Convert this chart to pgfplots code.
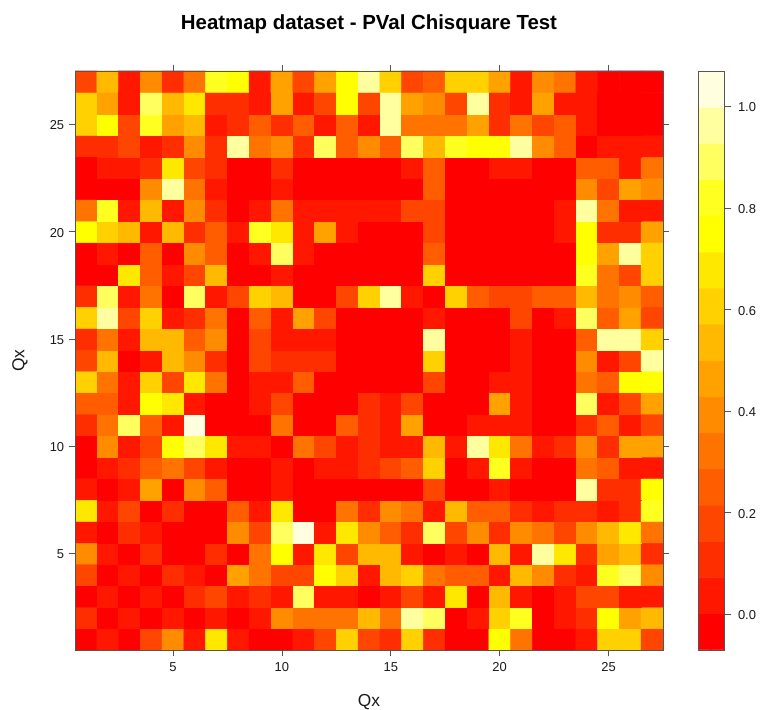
\documentclass[border=0pt]{standalone}
\usepackage{fontspec}
\setmainfont{Liberation Sans}
\usepackage{pgfplots}
\pgfplotsset{compat=1.18}
\definecolor{framegray}{RGB}{85,85,85}
\definecolor{txt}{RGB}{25,25,25}
\pgfplotsset{
  colormap={heatr}{
    rgb255(0)=(255,0,0) rgb255(1)=(255,23,0) rgb255(2)=(255,46,0) rgb255(3)=(255,70,0)
    rgb255(4)=(255,93,0) rgb255(5)=(255,116,0) rgb255(6)=(255,139,0) rgb255(7)=(255,162,0)
    rgb255(8)=(255,185,0) rgb255(9)=(255,209,0) rgb255(10)=(255,232,0) rgb255(11)=(255,255,0)
    rgb255(12)=(255,255,32) rgb255(13)=(255,255,96) rgb255(14)=(255,255,159) rgb255(15)=(255,255,223)
    rgb255(16)=(255,255,223)},
  commonstyle/.style={
    scale only axis,
    colormap name=heatr,
    colormap access=piecewise constant,
    point meta min=-0.07, point meta max=1.07,
    axis line style={framegray, line width=0.55pt},
    tick style={framegray, line width=0.55pt},
    tick align=outside,
    major tick length=4.6pt,
    /pgf/number format/assume math mode=true,
    tick label style={font=\fontsize{9.7}{11}\selectfont, text=txt},
    axis on top,
  }
}
\begin{document}
\begin{tikzpicture}[x=1pt,y=1pt]
\path[use as bounding box] (0,0) rectangle (570,532.5);
\begin{axis}[
  commonstyle,
  at={(56.25pt,45pt)}, anchor=south west,
  width=441pt, height=434.25pt,
  xmin=0.5, xmax=27.5, ymin=0.5, ymax=27.5,
  xtick={5,10,15,20,25}, ytick={5,10,15,20,25},
  xticklabel pos=bottom, yticklabel pos=left,
  xticklabel style={yshift=-1.5pt},
  yticklabel style={yshift=-0.7pt},
  title={\fontsize{15.3}{17}\selectfont\bfseries Heatmap dataset - PVal Chisquare Test},
  title style={at={(0.5,1)}, anchor=south, yshift=18.5pt, text=black},
  xlabel={\fontsize{13}{15}\selectfont Qx},
  ylabel={\fontsize{13}{15}\selectfont Qx},
  xlabel style={at={(0.5,0)}, anchor=north, yshift=-29.5pt, text=txt},
  ylabel style={at={(0,0.5)}, anchor=south, yshift=32pt, text=txt},
]
\addplot[matrix plot*, mesh/cols=27, point meta=explicit]
 table[row sep=\\, header=false, meta index=0,
       x expr={mod(\coordindex,27)+1},
       y expr={(\coordindex-mod(\coordindex,27))/27+1}] {
0.00\\0.04\\0.00\\0.18\\0.39\\0.04\\0.68\\0.04\\0.00\\0.00\\0.04\\0.18\\0.61\\0.18\\0.11\\0.61\\0.11\\0.00\\0.00\\0.75\\0.32\\0.00\\0.00\\0.04\\0.61\\0.61\\0.18\\
0.11\\0.00\\0.04\\0.00\\0.04\\0.00\\0.04\\0.00\\0.04\\0.39\\0.32\\0.32\\0.32\\0.54\\0.32\\0.96\\0.89\\0.00\\0.04\\0.61\\0.82\\0.00\\0.04\\0.11\\0.75\\0.46\\0.54\\
0.00\\0.04\\0.00\\0.04\\0.00\\0.11\\0.18\\0.04\\0.11\\0.04\\0.89\\0.04\\0.04\\0.00\\0.04\\0.18\\0.04\\0.68\\0.00\\0.54\\0.04\\0.00\\0.04\\0.18\\0.18\\0.04\\0.04\\
0.18\\0.00\\0.04\\0.00\\0.11\\0.04\\0.00\\0.46\\0.32\\0.18\\0.18\\0.75\\0.61\\0.04\\0.54\\0.61\\0.32\\0.25\\0.25\\0.04\\0.54\\0.39\\0.11\\0.04\\0.82\\0.89\\0.39\\
0.39\\0.04\\0.00\\0.11\\0.00\\0.00\\0.11\\0.00\\0.32\\0.75\\0.04\\0.68\\0.18\\0.54\\0.54\\0.04\\0.00\\0.04\\0.00\\0.54\\0.04\\0.96\\0.68\\0.11\\0.46\\0.54\\0.11\\
0.04\\0.00\\0.11\\0.04\\0.00\\0.00\\0.00\\0.39\\0.18\\0.89\\1.00\\0.04\\0.68\\0.39\\0.25\\0.11\\0.89\\0.18\\0.39\\0.11\\0.39\\0.32\\0.18\\0.39\\0.54\\0.68\\0.32\\
0.68\\0.04\\0.18\\0.00\\0.11\\0.00\\0.00\\0.25\\0.04\\0.68\\0.00\\0.00\\0.32\\0.11\\0.39\\0.32\\0.04\\0.54\\0.25\\0.25\\0.11\\0.04\\0.11\\0.11\\0.04\\0.11\\0.82\\
0.04\\0.00\\0.04\\0.46\\0.00\\0.39\\0.25\\0.00\\0.00\\0.04\\0.00\\0.00\\0.00\\0.00\\0.00\\0.00\\0.18\\0.00\\0.00\\0.04\\0.00\\0.00\\0.00\\0.96\\0.11\\0.11\\0.75\\
0.00\\0.04\\0.11\\0.25\\0.32\\0.18\\0.04\\0.00\\0.00\\0.04\\0.00\\0.04\\0.04\\0.11\\0.18\\0.25\\0.61\\0.00\\0.04\\0.82\\0.04\\0.00\\0.00\\0.32\\0.25\\0.04\\0.04\\
0.00\\0.39\\0.04\\0.18\\0.75\\0.89\\0.68\\0.04\\0.04\\0.00\\0.32\\0.18\\0.04\\0.11\\0.04\\0.04\\0.54\\0.04\\0.96\\0.68\\0.32\\0.04\\0.11\\0.39\\0.11\\0.46\\0.46\\
0.11\\0.32\\0.89\\0.25\\0.04\\1.00\\0.00\\0.00\\0.00\\0.32\\0.00\\0.00\\0.25\\0.11\\0.04\\0.46\\0.00\\0.00\\0.04\\0.04\\0.04\\0.00\\0.00\\0.11\\0.25\\0.04\\0.18\\
0.25\\0.25\\0.04\\0.75\\0.68\\0.04\\0.00\\0.00\\0.04\\0.18\\0.00\\0.00\\0.00\\0.11\\0.04\\0.18\\0.00\\0.00\\0.00\\0.46\\0.04\\0.00\\0.00\\0.89\\0.04\\0.18\\0.46\\
0.61\\0.32\\0.04\\0.61\\0.18\\0.68\\0.32\\0.00\\0.04\\0.04\\0.25\\0.00\\0.00\\0.00\\0.00\\0.00\\0.18\\0.00\\0.00\\0.04\\0.04\\0.00\\0.00\\0.32\\0.25\\0.75\\0.75\\
0.18\\0.54\\0.00\\0.04\\0.54\\0.39\\0.11\\0.00\\0.18\\0.11\\0.11\\0.11\\0.00\\0.00\\0.00\\0.00\\0.61\\0.00\\0.00\\0.00\\0.04\\0.00\\0.00\\0.39\\0.04\\0.18\\0.96\\
0.11\\0.32\\0.04\\0.54\\0.54\\0.25\\0.39\\0.00\\0.18\\0.04\\0.04\\0.04\\0.00\\0.00\\0.00\\0.00\\0.96\\0.00\\0.00\\0.00\\0.04\\0.00\\0.00\\0.25\\0.96\\0.96\\0.61\\
0.61\\0.96\\0.18\\0.61\\0.04\\0.11\\0.32\\0.00\\0.25\\0.04\\0.46\\0.18\\0.00\\0.00\\0.00\\0.00\\0.04\\0.00\\0.00\\0.00\\0.18\\0.00\\0.04\\0.89\\0.25\\0.46\\0.18\\
0.11\\0.89\\0.04\\0.32\\0.00\\0.89\\0.04\\0.18\\0.61\\0.54\\0.00\\0.00\\0.18\\0.61\\0.96\\0.04\\0.00\\0.61\\0.25\\0.18\\0.18\\0.25\\0.25\\0.54\\0.32\\0.39\\0.25\\
0.00\\0.00\\0.68\\0.25\\0.04\\0.18\\0.54\\0.00\\0.00\\0.04\\0.00\\0.00\\0.00\\0.00\\0.00\\0.00\\0.61\\0.00\\0.00\\0.00\\0.00\\0.00\\0.00\\0.82\\0.32\\0.18\\0.61\\
0.00\\0.04\\0.00\\0.25\\0.00\\0.39\\0.25\\0.00\\0.04\\0.89\\0.04\\0.00\\0.00\\0.00\\0.00\\0.00\\0.25\\0.00\\0.00\\0.00\\0.00\\0.00\\0.00\\0.75\\0.46\\0.96\\0.61\\
0.75\\0.61\\0.54\\0.04\\0.54\\0.11\\0.25\\0.04\\0.82\\0.68\\0.04\\0.46\\0.04\\0.00\\0.00\\0.00\\0.18\\0.00\\0.00\\0.00\\0.00\\0.00\\0.04\\0.75\\0.11\\0.11\\0.46\\
0.32\\0.82\\0.04\\0.54\\0.04\\0.39\\0.11\\0.00\\0.04\\0.32\\0.04\\0.04\\0.04\\0.04\\0.04\\0.18\\0.18\\0.00\\0.00\\0.00\\0.00\\0.00\\0.04\\0.96\\0.32\\0.04\\0.04\\
0.00\\0.00\\0.00\\0.39\\0.96\\0.32\\0.04\\0.00\\0.00\\0.04\\0.00\\0.00\\0.00\\0.00\\0.00\\0.00\\0.25\\0.00\\0.00\\0.00\\0.00\\0.00\\0.00\\0.39\\0.18\\0.46\\0.39\\
0.00\\0.04\\0.04\\0.11\\0.68\\0.18\\0.11\\0.00\\0.00\\0.11\\0.00\\0.00\\0.00\\0.00\\0.00\\0.04\\0.25\\0.00\\0.00\\0.04\\0.04\\0.00\\0.00\\0.25\\0.25\\0.04\\0.32\\
0.11\\0.11\\0.18\\0.04\\0.11\\0.39\\0.11\\0.96\\0.32\\0.39\\0.11\\0.89\\0.25\\0.39\\0.25\\0.89\\0.54\\0.82\\0.75\\0.75\\0.96\\0.39\\0.25\\0.00\\0.04\\0.04\\0.04\\
0.61\\0.75\\0.18\\0.82\\0.46\\0.54\\0.04\\0.11\\0.25\\0.11\\0.25\\0.04\\0.25\\0.04\\0.96\\0.32\\0.32\\0.32\\0.46\\0.11\\0.32\\0.18\\0.25\\0.04\\0.00\\0.00\\0.00\\
0.61\\0.46\\0.04\\0.89\\0.54\\0.68\\0.11\\0.11\\0.04\\0.46\\0.04\\0.18\\0.75\\0.18\\0.96\\0.46\\0.39\\0.18\\0.96\\0.11\\0.04\\0.46\\0.04\\0.04\\0.00\\0.00\\0.00\\
0.18\\0.54\\0.04\\0.39\\0.11\\0.32\\0.82\\0.75\\0.04\\0.46\\0.18\\0.46\\0.75\\0.96\\0.61\\0.18\\0.25\\0.61\\0.61\\0.46\\0.04\\0.39\\0.32\\0.04\\0.00\\0.00\\0.00\\
};
\end{axis}
\begin{axis}[
  commonstyle,
  at={(523.5pt,45pt)}, anchor=south west,
  width=19.5pt, height=434.25pt,
  xmin=-0.5, xmax=1.5, ymin=-0.07, ymax=1.07,
  xtick=\empty,
  ytick={0,0.2,0.4,0.6,0.8,1.0},
  yticklabel pos=right,
  ytick pos=right,
  major tick length=5.5pt,
  yticklabel style={xshift=1.5pt, yshift=-0.7pt, /pgf/number format/fixed, /pgf/number format/fixed zerofill, /pgf/number format/precision=1},
]
\addplot[matrix plot*, mesh/cols=2, point meta=explicit] coordinates {
(0,-0.034)[-0.034](1,-0.034)[-0.034]
(0,0.037)[0.037](1,0.037)[0.037]
(0,0.108)[0.108](1,0.108)[0.108]
(0,0.179)[0.179](1,0.179)[0.179]
(0,0.251)[0.251](1,0.251)[0.251]
(0,0.322)[0.322](1,0.322)[0.322]
(0,0.393)[0.393](1,0.393)[0.393]
(0,0.464)[0.464](1,0.464)[0.464]
(0,0.536)[0.536](1,0.536)[0.536]
(0,0.607)[0.607](1,0.607)[0.607]
(0,0.678)[0.678](1,0.678)[0.678]
(0,0.749)[0.749](1,0.749)[0.749]
(0,0.821)[0.821](1,0.821)[0.821]
(0,0.892)[0.892](1,0.892)[0.892]
(0,0.963)[0.963](1,0.963)[0.963]
(0,1.034)[1.034](1,1.034)[1.034]
};
\end{axis}
\end{tikzpicture}
\end{document}
